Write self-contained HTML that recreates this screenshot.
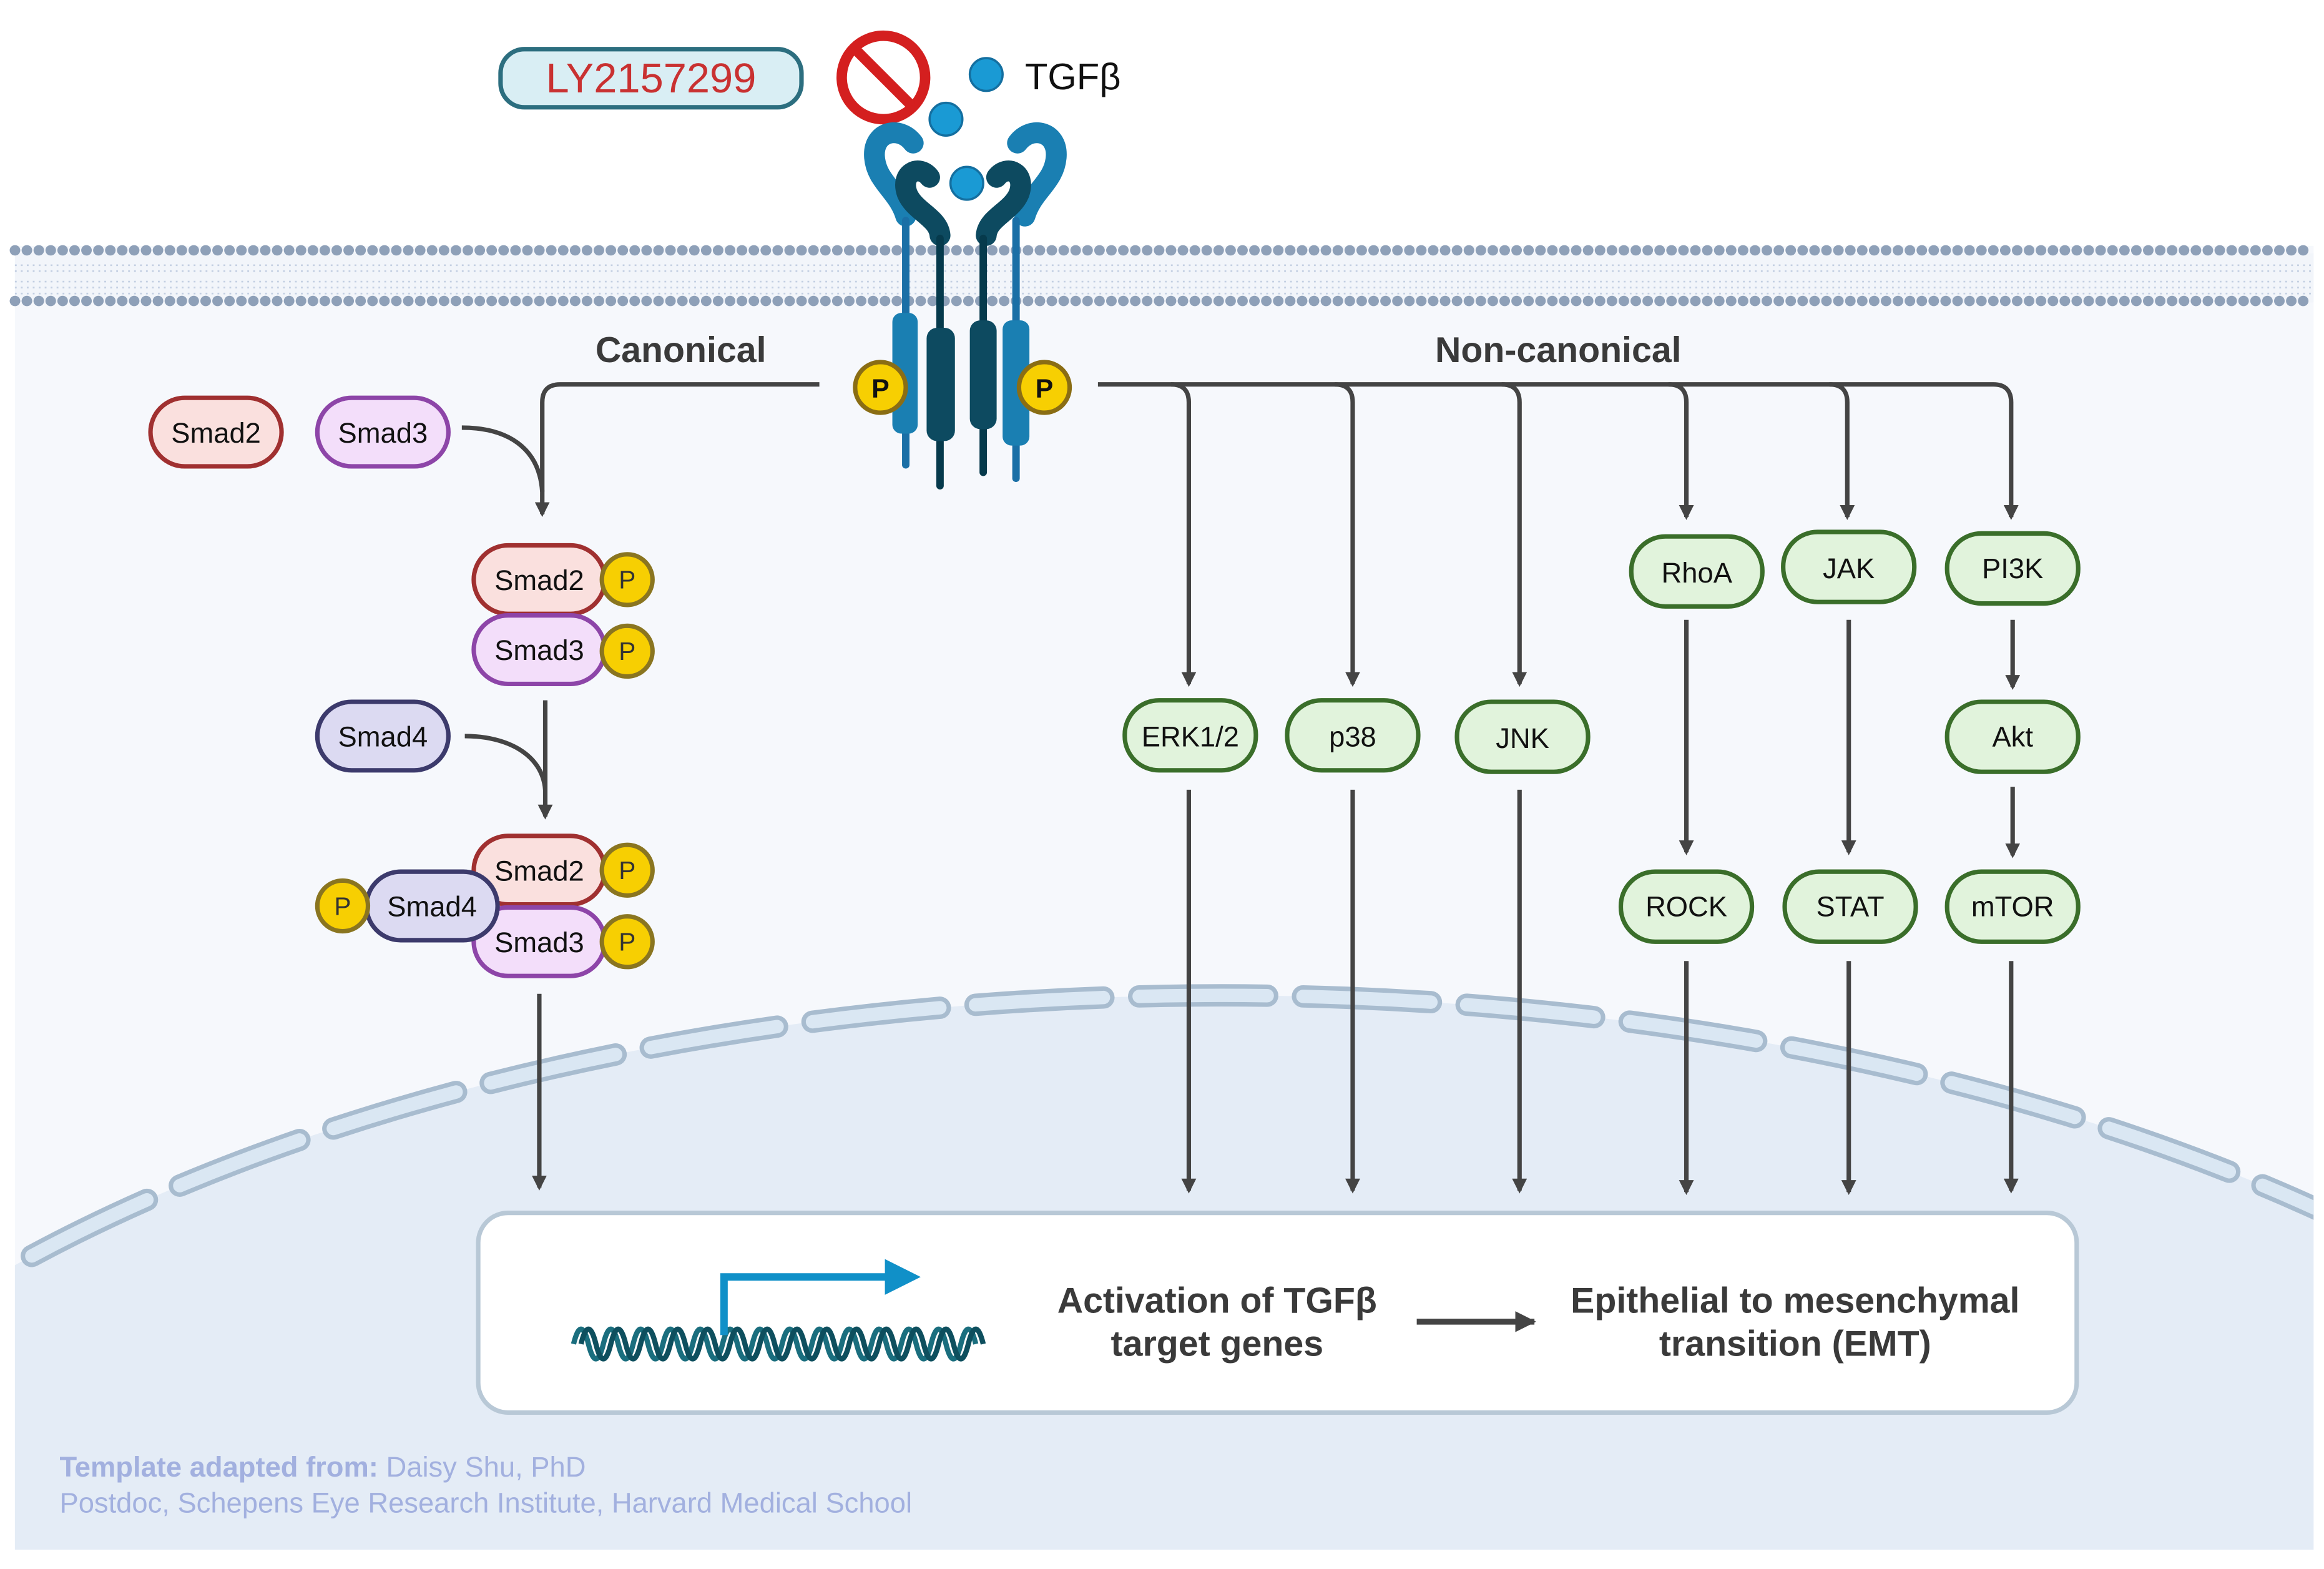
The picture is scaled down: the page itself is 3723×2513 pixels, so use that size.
<!DOCTYPE html>
<html><head><meta charset="utf-8"><style>
html,body{margin:0;padding:0;background:#fff;width:3723px;height:2513px;overflow:hidden;}
svg{display:block;}
text{font-family:"Liberation Sans",Arial,sans-serif;}
</style></head><body>
<svg width="3723" height="2513" viewBox="0 0 1560 1053" xmlns="http://www.w3.org/2000/svg">
<defs>
<clipPath id="cell"><rect x="10" y="165" width="1543" height="875"/></clipPath>
<marker id="ah" markerWidth="10" markerHeight="10" refX="8" refY="5" orient="auto" markerUnits="userSpaceOnUse" viewBox="0 0 10 10">
<path d="M0,0 L10,5 L0,10 Z" fill="#444"/></marker>
<marker id="ah2" markerWidth="14" markerHeight="14" refX="11" refY="6" orient="auto" markerUnits="userSpaceOnUse" viewBox="0 0 12 12">
<path d="M0,0 L12,6 L0,12 Z" fill="#444"/></marker>
</defs>
<rect width="1560" height="1053" fill="#fff"/>
<rect x="10" y="165" width="1543" height="875" fill="#f6f8fc"/>
<g clip-path="url(#cell)">
<ellipse cx="820" cy="1228" rx="1100" ry="560" fill="#e4ecf6"/>
<ellipse cx="820" cy="1228" rx="1100" ry="560" fill="none" stroke="#a8bccf" stroke-width="15" stroke-dasharray="86 24" stroke-linecap="round"/>
<ellipse cx="820" cy="1228" rx="1100" ry="560" fill="none" stroke="#dae7f3" stroke-width="9" stroke-dasharray="86 24" stroke-linecap="round"/>
</g>
<rect x="10" y="170" width="1543" height="33" fill="#f2f5fa"/>
<path d="M10,168 H1553" stroke="#8ea0b8" stroke-width="7" stroke-dasharray="0.1 7.9" stroke-linecap="round"/>
<path d="M10,202 H1553" stroke="#8ea0b8" stroke-width="7" stroke-dasharray="0.1 7.9" stroke-linecap="round"/>
<g stroke="#c3cfe2" stroke-width="1.1">
<line x1="10" y1="178" x2="1553" y2="178" stroke-dasharray="1.2 2.8"/>
<line x1="10" y1="182" x2="1553" y2="182" stroke-dasharray="1.2 2.8"/>
<line x1="10" y1="189" x2="1553" y2="189" stroke-dasharray="1.2 2.8"/>
<line x1="10" y1="193" x2="1553" y2="193" stroke-dasharray="1.2 2.8"/>
<line x1="10" y1="197" x2="1553" y2="197" stroke-dasharray="1.2 2.8"/>
</g>
<rect x="336" y="33" width="202" height="39" rx="16" fill="#d9eef4" stroke="#2c6e7f" stroke-width="3"/>
<text x="437" y="62" font-size="28" fill="#c93131" text-anchor="middle">LY2157299</text>
<circle cx="593" cy="52" r="28" fill="none" stroke="#d41f1f" stroke-width="7"/>
<line x1="574" y1="33" x2="612" y2="71" stroke="#d41f1f" stroke-width="7"/>
<circle cx="662" cy="50" r="11" fill="#1a9ad4" stroke="#146fa0" stroke-width="1.5"/>
<text x="688" y="60" font-size="25" fill="#111">TGFβ</text>
<circle cx="635" cy="80" r="11" fill="#1a9ad4" stroke="#146fa0" stroke-width="1.5"/>
<circle cx="649" cy="123" r="11" fill="#1a9ad4" stroke="#146fa0" stroke-width="1.5"/>
<g stroke-linecap="round" fill="none">
<path d="M613,96 C604,84 586,88 587,105 C588,122 603,128 608,145" stroke="#1a7fb2" stroke-width="14"/>
<path d="M683,96 C692,84 710,88 709,105 C708,122 693,128 688,145" stroke="#1a7fb2" stroke-width="14"/>
<path d="M624,119 C617,110 604,116 609,130 C614,142 630,146 631,158" stroke="#0d4a60" stroke-width="14"/>
<path d="M669,119 C676,110 689,116 684,130 C679,142 663,146 662,158" stroke="#0d4a60" stroke-width="14"/>
<line x1="608" y1="148" x2="608" y2="210" stroke="#1a6fa6" stroke-width="5"/>
<line x1="608" y1="290" x2="608" y2="312" stroke="#1a6fa6" stroke-width="5"/>
<line x1="682" y1="148" x2="682" y2="215" stroke="#1a6fa6" stroke-width="5"/>
<line x1="682" y1="298" x2="682" y2="321" stroke="#1a6fa6" stroke-width="5"/>
<line x1="631" y1="160" x2="631" y2="222" stroke="#063a4c" stroke-width="5"/>
<line x1="631" y1="295" x2="631" y2="326" stroke="#063a4c" stroke-width="5"/>
<line x1="660" y1="160" x2="660" y2="216" stroke="#063a4c" stroke-width="5"/>
<line x1="660" y1="287" x2="660" y2="317" stroke="#063a4c" stroke-width="5"/>
</g>
<rect x="599" y="210" width="17" height="81" rx="6" fill="#1a7fb2"/>
<rect x="673" y="215" width="18" height="84" rx="6" fill="#1a7fb2"/>
<rect x="622" y="220" width="19" height="76" rx="7" fill="#0d4a60"/>
<rect x="651" y="215" width="18" height="73" rx="7" fill="#0d4a60"/>
<g font-weight="bold" font-size="18" text-anchor="middle" fill="#111">
<circle cx="591" cy="260" r="17" fill="#f7cf02" stroke="#8a6d14" stroke-width="3"/>
<text x="591" y="267">P</text>
<circle cx="701" cy="260" r="17" fill="#f7cf02" stroke="#8a6d14" stroke-width="3"/>
<text x="701" y="267">P</text>
</g>
<text x="457" y="243" font-size="24" font-weight="bold" fill="#3a3a3a" text-anchor="middle">Canonical</text>
<text x="1046" y="243" font-size="24" font-weight="bold" fill="#3a3a3a" text-anchor="middle">Non-canonical</text>
<g fill="none" stroke="#444" stroke-width="3">
<path d="M550,258 H376 Q364,258 364,270 V345" marker-end="url(#ah)"/>
<path d="M310,287 C340,287 362,300 364,330"/>
<path d="M366,470 V548" marker-end="url(#ah)"/>
<path d="M312,494 C340,494 364,506 366,530"/>
<path d="M362,667 V797" marker-end="url(#ah)"/>
<path d="M737,258 H1338 Q1350,258 1350,270 V347" marker-end="url(#ah)"/>
<path d="M786,258 Q798,258 798,270 V459" marker-end="url(#ah)"/>
<path d="M896,258 Q908,258 908,270 V459" marker-end="url(#ah)"/>
<path d="M1008,258 Q1020,258 1020,270 V459" marker-end="url(#ah)"/>
<path d="M1120,258 Q1132,258 1132,270 V347" marker-end="url(#ah)"/>
<path d="M1228,258 Q1240,258 1240,270 V347" marker-end="url(#ah)"/>
<path d="M798,530 V799" marker-end="url(#ah)"/>
<path d="M908,530 V799" marker-end="url(#ah)"/>
<path d="M1020,530 V799" marker-end="url(#ah)"/>
<path d="M1132,416 V572" marker-end="url(#ah)"/>
<path d="M1241,416 V572" marker-end="url(#ah)"/>
<path d="M1351,416 V461" marker-end="url(#ah)"/>
<path d="M1351,528 V574" marker-end="url(#ah)"/>
<path d="M1132,645 V800" marker-end="url(#ah)"/>
<path d="M1241,645 V800" marker-end="url(#ah)"/>
<path d="M1350,645 V799" marker-end="url(#ah)"/>
</g>
<g font-size="19" text-anchor="middle" fill="#111">
<g fill="#e1f3dc" stroke="#3a6e2a" stroke-width="3">
<rect x="755" y="470" width="88" height="47" rx="23"/>
<rect x="864" y="470" width="88" height="47" rx="23"/>
<rect x="978" y="471" width="88" height="47" rx="23"/>
<rect x="1095" y="360" width="88" height="47" rx="23"/>
<rect x="1197" y="357" width="88" height="47" rx="23"/>
<rect x="1307" y="358" width="88" height="47" rx="23"/>
<rect x="1307" y="471" width="88" height="47" rx="23"/>
<rect x="1088" y="585" width="88" height="47" rx="23"/>
<rect x="1198" y="585" width="88" height="47" rx="23"/>
<rect x="1307" y="585" width="88" height="47" rx="23"/>
</g>
<text x="799" y="501">ERK1/2</text>
<text x="908" y="501">p38</text>
<text x="1022" y="502">JNK</text>
<text x="1139" y="391">RhoA</text>
<text x="1241" y="388">JAK</text>
<text x="1351" y="388">PI3K</text>
<text x="1351" y="501">Akt</text>
<text x="1132" y="615">ROCK</text>
<text x="1242" y="615">STAT</text>
<text x="1351" y="615">mTOR</text>
</g>
<g font-size="19" text-anchor="middle" fill="#111">
<rect x="101" y="267" width="88" height="46" rx="23" fill="#fae0de" stroke="#a03030" stroke-width="3"/>
<text x="145" y="297">Smad2</text>
<rect x="213" y="267" width="88" height="46" rx="23" fill="#f3defa" stroke="#8d45a8" stroke-width="3"/>
<text x="257" y="297">Smad3</text>
<rect x="213" y="471" width="88" height="46" rx="23" fill="#dcdaf2" stroke="#3c3a6c" stroke-width="3"/>
<text x="257" y="501">Smad4</text>
<rect x="318" y="366" width="88" height="46" rx="23" fill="#fae0de" stroke="#a03030" stroke-width="3"/>
<text x="362" y="396">Smad2</text>
<rect x="318" y="413" width="88" height="46" rx="23" fill="#f3defa" stroke="#8d45a8" stroke-width="3"/>
<text x="362" y="443">Smad3</text>
<rect x="318" y="561" width="88" height="46" rx="23" fill="#fae0de" stroke="#a03030" stroke-width="3"/>
<text x="362" y="591">Smad2</text>
<rect x="318" y="609" width="88" height="46" rx="23" fill="#f3defa" stroke="#8d45a8" stroke-width="3"/>
<text x="362" y="639">Smad3</text>
<rect x="246" y="585" width="88" height="46" rx="23" fill="#dcdaf2" stroke="#3c3a6c" stroke-width="3"/>
<text x="290" y="615">Smad4</text>
</g>
<g font-size="17" text-anchor="middle" fill="#333">
<g fill="#f7cf02" stroke="#8a7520" stroke-width="3">
<circle cx="421" cy="389" r="17"/><circle cx="421" cy="437" r="17"/>
<circle cx="421" cy="584" r="17"/><circle cx="421" cy="632" r="17"/>
<circle cx="230" cy="608" r="17"/>
</g>
<text x="421" y="395">P</text><text x="421" y="443">P</text>
<text x="421" y="590">P</text><text x="421" y="638">P</text>
<text x="230" y="614">P</text>
</g>
<rect x="321" y="814" width="1073" height="134" rx="20" fill="#fff" stroke="#b8c8d6" stroke-width="3"/>
<g fill="none" stroke-width="3.5">
<path d="M385,902 q5,-20 10,0 t10,0 t10,0 t10,0 t10,0 t10,0 t10,0 t10,0 t10,0 t10,0 t10,0 t10,0 t10,0 t10,0 t10,0 t10,0 t10,0 t10,0 t10,0 t10,0 t10,0 t10,0 t10,0 t10,0 t10,0 t10,0 t10,0" stroke="#1a6e7e"/>
<path d="M390,902 q5,-20 10,0 t10,0 t10,0 t10,0 t10,0 t10,0 t10,0 t10,0 t10,0 t10,0 t10,0 t10,0 t10,0 t10,0 t10,0 t10,0 t10,0 t10,0 t10,0 t10,0 t10,0 t10,0 t10,0 t10,0 t10,0 t10,0 t10,0" stroke="#0e4f5e"/>
</g>
<path d="M486,896 V857 H596" fill="none" stroke="#1090c8" stroke-width="5"/>
<path d="M594,845 L618,857 L594,869 Z" fill="#1090c8"/>
<g font-size="24" font-weight="bold" fill="#3a3a3a" text-anchor="middle">
<text x="817" y="881">Activation of TGFβ</text>
<text x="817" y="910">target genes</text>
<text x="1205" y="881">Epithelial to mesenchymal</text>
<text x="1205" y="910">transition (EMT)</text>
</g>
<path d="M951,887 H1030" stroke="#444" stroke-width="4" marker-end="url(#ah2)"/>
<text x="40" y="991" font-size="19" fill="#a2b0df"><tspan font-weight="bold">Template adapted from:</tspan> Daisy Shu, PhD</text>
<text x="40" y="1015" font-size="19" fill="#a2b0df">Postdoc, Schepens Eye Research Institute, Harvard Medical School</text>
</svg>
</body></html>
